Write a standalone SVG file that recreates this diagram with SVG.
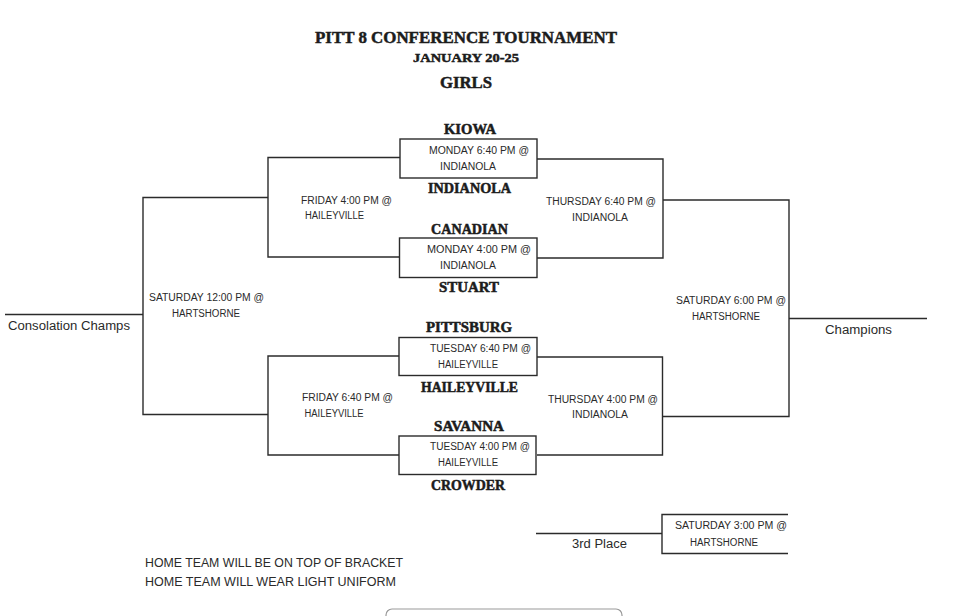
<svg xmlns="http://www.w3.org/2000/svg" width="960" height="616" viewBox="0 0 960 616">
<style>
.ln{fill:none;stroke:#2b2b2b;stroke-width:1.4}
.bx{fill:#fff;stroke:#2b2b2b;stroke-width:1.4}
.st{font-family:"Liberation Serif","DejaVu Serif",serif;font-weight:900;fill:#1c1c1c;stroke:#1c1c1c;stroke-width:0.5;text-anchor:middle}
.tm{font-size:14px}
.sm{font-family:"Liberation Sans","DejaVu Sans",sans-serif;font-size:10px;fill:#2a2a2a;text-anchor:middle}
.lb{font-family:"Liberation Sans","DejaVu Sans",sans-serif;font-size:12.5px;fill:#2a2a2a}
</style>
<rect width="960" height="616" fill="#fff"/>
<g id="title">
<text class="st" x="466" y="43" font-size="17" textLength="302" lengthAdjust="spacingAndGlyphs">PITT 8 CONFERENCE TOURNAMENT</text>
<text class="st" x="466" y="62" font-size="13" textLength="106" lengthAdjust="spacingAndGlyphs">JANUARY 20-25</text>
<text class="st" x="466" y="88" font-size="16" textLength="52" lengthAdjust="spacingAndGlyphs">GIRLS</text>
</g>
<g id="connectors">
<path class="ln" d="M400,157.5 H268 V257 H400"/>
<path class="ln" d="M400,356 H268 V455 H400"/>
<path class="ln" d="M268,197.5 H143 V414.5 H268"/>
<path class="ln" d="M5,314.5 H143"/>
<path class="ln" d="M537,159 H663 V258 H537"/>
<path class="ln" d="M537,357 H662.5 V455 H537"/>
<path class="ln" d="M663,200 H789 V416.5 H662.5"/>
<path class="ln" d="M789,318.5 H927"/>
<path class="ln" d="M536,533.5 H662"/>
<path class="ln" d="M788,514.5 H662 V553.5 H788"/>
</g>
<g id="game-monday-640">
<text class="st tm" x="470" y="134" textLength="52" lengthAdjust="spacingAndGlyphs">KIOWA</text>
<rect class="bx" x="400" y="139" width="137" height="39"/>
<text class="sm" x="479" y="154" textLength="100" lengthAdjust="spacingAndGlyphs">MONDAY 6:40 PM @</text>
<text class="sm" x="468" y="170" textLength="56" lengthAdjust="spacingAndGlyphs">INDIANOLA</text>
<text class="st tm" x="469.5" y="193" textLength="83" lengthAdjust="spacingAndGlyphs">INDIANOLA</text>
</g>
<g id="game-monday-400">
<text class="st tm" x="469.5" y="234" textLength="77" lengthAdjust="spacingAndGlyphs">CANADIAN</text>
<rect class="bx" x="399.5" y="238" width="137.5" height="39.5"/>
<text class="sm" x="479" y="252.5" textLength="104" lengthAdjust="spacingAndGlyphs">MONDAY  4:00 PM @</text>
<text class="sm" x="468" y="269" textLength="56" lengthAdjust="spacingAndGlyphs">INDIANOLA</text>
<text class="st tm" x="469" y="292" textLength="60" lengthAdjust="spacingAndGlyphs">STUART</text>
</g>
<g id="game-tuesday-640">
<text class="st tm" x="469" y="332" textLength="86" lengthAdjust="spacingAndGlyphs">PITTSBURG</text>
<rect class="bx" x="399" y="337.5" width="138" height="38"/>
<text class="sm" x="480.5" y="352" textLength="101" lengthAdjust="spacingAndGlyphs">TUESDAY 6:40 PM @</text>
<text class="sm" x="468" y="367.5" textLength="60" lengthAdjust="spacingAndGlyphs">HAILEYVILLE</text>
<text class="st tm" x="469.5" y="392" textLength="97" lengthAdjust="spacingAndGlyphs">HAILEYVILLE</text>
</g>
<g id="game-tuesday-400">
<text class="st tm" x="469" y="431" textLength="70" lengthAdjust="spacingAndGlyphs">SAVANNA</text>
<rect class="bx" x="399" y="436" width="137" height="38.5"/>
<text class="sm" x="480" y="450" textLength="100" lengthAdjust="spacingAndGlyphs">TUESDAY 4:00 PM @</text>
<text class="sm" x="468" y="466" textLength="60" lengthAdjust="spacingAndGlyphs">HAILEYVILLE</text>
<text class="st tm" x="468" y="489.5" textLength="74" lengthAdjust="spacingAndGlyphs">CROWDER</text>
</g>
<g id="game-friday-400">
<text class="sm" x="346.5" y="203.5" textLength="91" lengthAdjust="spacingAndGlyphs">FRIDAY 4:00 PM @</text>
<text class="sm" x="334.5" y="219" textLength="59" lengthAdjust="spacingAndGlyphs">HAILEYVILLE</text>
</g>
<g id="game-friday-640">
<text class="sm" x="347.5" y="401" textLength="91" lengthAdjust="spacingAndGlyphs">FRIDAY 6:40 PM @</text>
<text class="sm" x="334" y="417" textLength="59" lengthAdjust="spacingAndGlyphs">HAILEYVILLE</text>
</g>
<g id="game-saturday-1200">
<text class="sm" x="206.5" y="301" textLength="115" lengthAdjust="spacingAndGlyphs">SATURDAY 12:00 PM @</text>
<text class="sm" x="206" y="317" textLength="68" lengthAdjust="spacingAndGlyphs">HARTSHORNE</text>
</g>
<g id="consolation">
<text class="lb" x="8" y="330" textLength="122" lengthAdjust="spacingAndGlyphs">Consolation Champs</text>
</g>
<g id="game-thursday-640">
<text class="sm" x="601" y="205" textLength="110" lengthAdjust="spacingAndGlyphs">THURSDAY 6:40 PM @</text>
<text class="sm" x="600" y="221" textLength="56" lengthAdjust="spacingAndGlyphs">INDIANOLA</text>
</g>
<g id="game-thursday-400">
<text class="sm" x="603" y="402.5" textLength="110" lengthAdjust="spacingAndGlyphs">THURSDAY 4:00 PM @</text>
<text class="sm" x="600" y="418" textLength="56" lengthAdjust="spacingAndGlyphs">INDIANOLA</text>
</g>
<g id="game-saturday-600">
<text class="sm" x="731" y="304" textLength="110" lengthAdjust="spacingAndGlyphs">SATURDAY 6:00 PM @</text>
<text class="sm" x="726" y="320" textLength="68" lengthAdjust="spacingAndGlyphs">HARTSHORNE</text>
</g>
<g id="champions">
<text class="lb" x="825" y="334" textLength="67" lengthAdjust="spacingAndGlyphs">Champions</text>
</g>
<g id="game-saturday-300">
<text class="sm" x="731" y="529" textLength="112" lengthAdjust="spacingAndGlyphs">SATURDAY 3:00 PM @</text>
<text class="sm" x="724" y="545.5" textLength="68" lengthAdjust="spacingAndGlyphs">HARTSHORNE</text>
</g>
<g id="third-place">
<text class="lb" x="572" y="548" textLength="55" lengthAdjust="spacingAndGlyphs">3rd Place</text>
</g>
<g id="notes">
<text class="lb" x="145" y="567" textLength="258" lengthAdjust="spacingAndGlyphs">HOME TEAM WILL BE ON TOP OF BRACKET</text>
<text class="lb" x="145" y="585.5" textLength="251" lengthAdjust="spacingAndGlyphs">HOME TEAM WILL WEAR LIGHT UNIFORM</text>
</g>
<rect x="386" y="609" width="236" height="20" rx="6" fill="none" stroke="#999" stroke-width="1.2"/>
</svg>
